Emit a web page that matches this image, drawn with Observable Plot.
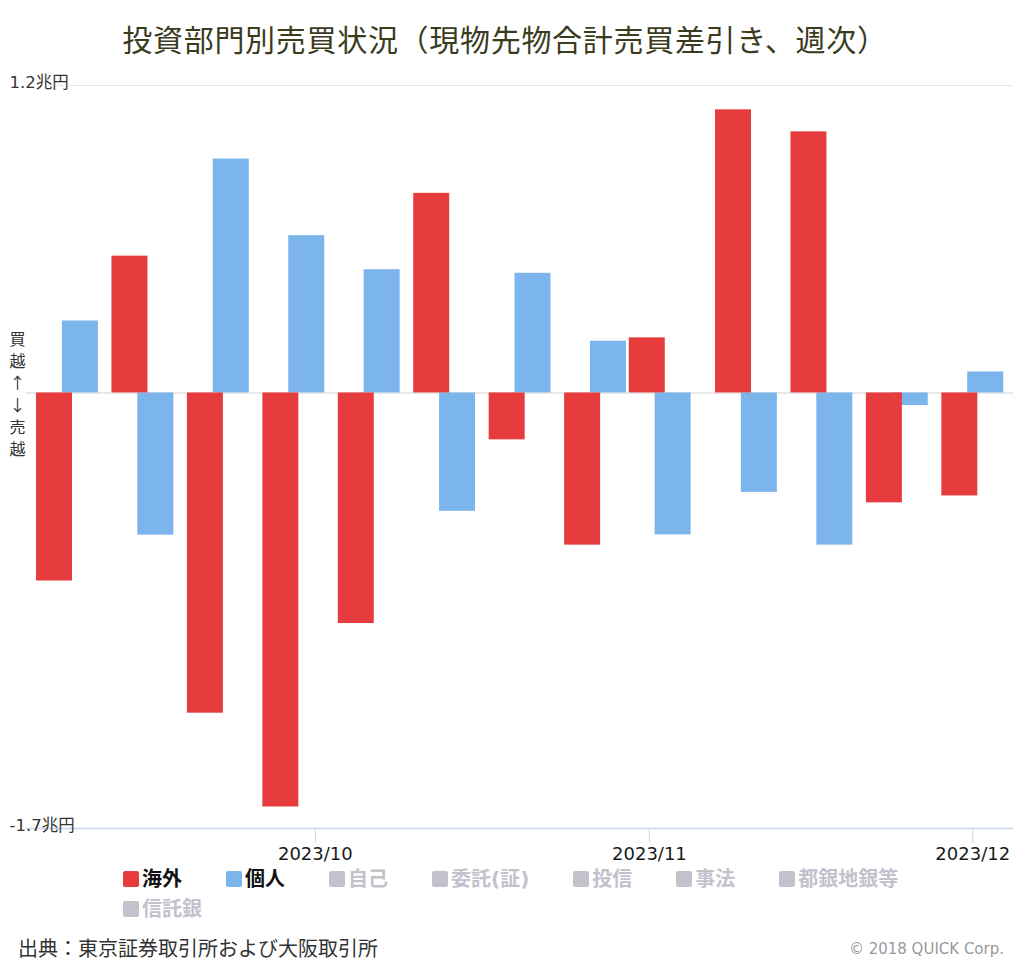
<!DOCTYPE html>
<html><head><meta charset="utf-8">
<script src="https://cdn.jsdelivr.net/npm/d3@7"></script>
<script src="https://cdn.jsdelivr.net/npm/@observablehq/plot@0.6"></script>
<style>
body{margin:0;background:#fff;font-family:"DejaVu Sans","Noto Sans CJK JP",sans-serif;}
#wrap{width:1024px;height:964px;position:relative;overflow:hidden;background:#fff;}
#title{width:1010px;height:66px;box-sizing:border-box;padding-top:18px;line-height:40px;text-align:center;font-size:30px;letter-spacing:0.7px;color:#3b3b1e;font-family:"Noto Sans CJK JP",sans-serif;white-space:nowrap;}
#chart svg{display:block;}
#legend{margin-left:123px;width:800px;height:60px;display:flex;flex-wrap:wrap;column-gap:44px;font-weight:bold;font-size:20px;line-height:30px;font-family:"DejaVu Sans","Noto Sans CJK JP",sans-serif;}
.item{display:flex;align-items:center;white-space:nowrap;}
.sw{display:inline-block;width:16px;height:16px;border-radius:2px;margin-right:3px;}
#footer{position:relative;height:40px;}
#source{position:absolute;left:18px;top:0;line-height:48px;font-size:20px;color:#333;font-family:"Noto Sans CJK JP",sans-serif;}
#credit{position:absolute;right:20px;top:0;line-height:50px;font-size:15px;color:#999;}
</style>
</head><body>
<div id="wrap">
<div id="title"></div>
<div id="chart"></div>
<div id="legend"></div>
<div id="footer"><span id="source"></span><span id="credit"></span></div>
</div>
<script>
// ---- data ----
const titleText = "投資部門別売買状況（現物先物合計売買差引き、週次）";
const weeks = ["2023-09-08","2023-09-15","2023-09-22","2023-09-29","2023-10-06","2023-10-13","2023-10-20","2023-10-27","2023-11-02","2023-11-10","2023-11-17","2023-11-24","2023-12-01"];
const kaigai = [-0.734, 0.534, -1.250, -1.616, -0.900, 0.779, -0.183, -0.594, 0.215, 1.105, 1.019, -0.429, -0.402];
const kojin  = [0.281, -0.555, 0.913, 0.614, 0.481, -0.462, 0.467, 0.202, -0.554, -0.388, -0.594, -0.049, 0.082];
const seriesNames = ["海外", "個人"];
const seriesColors = ["#e73c3d", "#7cb5ec"];
const hiddenNames = ["自己", "委託(証)", "投信", "事法", "都銀地銀等", "信託銀"];
const monthTicks = ["2023-10-01", "2023-11-01", "2023-12-01"];
const monthLabels = ["2023/10", "2023/11", "2023/12"];
const yTicks = [1.2, -1.7];
const yTickLabels = ["1.2兆円", "-1.7兆円"];
const yTitle = "買越↑↓売越";
const sourceText = "出典：東京証券取引所および大阪取引所";
const creditText = "© 2018 QUICK Corp.";

// ---- build ----
document.getElementById("title").textContent = titleText;
document.getElementById("source").textContent = sourceText;
document.getElementById("credit").textContent = creditText;

const DAY = 864e5;
const dates = weeks.map(s => new Date(s));
const redRows = dates.map((d, i) => ({date: d, value: kaigai[i]}));
const blueRows = dates.map((d, i) => ({date: d, value: kojin[i]}));
const lead = 2.87, trail = 0.47; // bar extent around the week date, in days
const tickDates = monthTicks.map(s => new Date(s));
const tickLabel = new Map(tickDates.map((d, i) => [+d, monthLabels[i]]));

const chart = Plot.plot({
  width: 1024, height: 798,
  marginTop: 19, marginBottom: 36, marginLeft: 26, marginRight: 11,
  style: {fontFamily: "DejaVu Sans, Noto Sans CJK JP, sans-serif", fontSize: "16px", color: "#333", background: "transparent"},
  x: {type: "utc", domain: [new Date(+dates[0] - 3.8 * DAY), new Date(+dates[dates.length - 1] + 3.78 * DAY)], axis: null},
  y: {domain: [yTicks[1], yTicks[0]], axis: null},
  marks: [
    Plot.ruleY([yTicks[0]], {stroke: "#e6e6e6", strokeWidth: 1.2}),
    Plot.ruleY([0], {stroke: "#e2e2e2", strokeWidth: 1.6}),
    Plot.rectY(blueRows, {x1: d => new Date(+d.date - trail * DAY), x2: d => new Date(+d.date + lead * DAY), y1: 0, y2: "value", fill: seriesColors[1]}),
    Plot.rectY(redRows, {x1: d => new Date(+d.date - lead * DAY), x2: d => new Date(+d.date + trail * DAY), y1: 0, y2: "value", fill: seriesColors[0]}),
    Plot.ruleY([yTicks[1]], {stroke: "#ccd6eb", strokeWidth: 1.4}),
    Plot.axisX({ticks: tickDates, tickFormat: d => tickLabel.get(+d), tickSize: 15, tickPadding: 4, stroke: "#ccd6eb", fill: "#1a1a1a", fontSize: 18}),
    Plot.text(yTicks, {y: d => d, text: (d, i) => yTickLabels[i], frameAnchor: "left", textAnchor: "start", dx: -17, dy: 2, lineAnchor: "bottom", fontSize: 16.5, fill: "#333", stroke: (d, i) => i === 0 ? "white" : "none", strokeWidth: 4}),
    Plot.text([0], {y: d => d, text: () => Array.from(yTitle).join("\n"), frameAnchor: "left", dx: -9, textAnchor: "middle", lineAnchor: "middle", lineHeight: 1.38, fontSize: 16, fill: "#333", fontFamily: "Noto Sans CJK JP, sans-serif"})
  ]
});
document.getElementById("chart").appendChild(chart);

const legend = document.getElementById("legend");
function addItem(name, swColor, textColor) {
  const it = document.createElement("div");
  it.className = "item";
  const sw = document.createElement("span");
  sw.className = "sw"; sw.style.background = swColor;
  const tx = document.createElement("span");
  tx.textContent = name; tx.style.color = textColor;
  it.appendChild(sw); it.appendChild(tx);
  legend.appendChild(it);
}
seriesNames.forEach((n, i) => addItem(n, seriesColors[i], "#111"));
hiddenNames.forEach(n => addItem(n, "#c2c2cc", "#c2c2cc"));
</script>
</body></html>
